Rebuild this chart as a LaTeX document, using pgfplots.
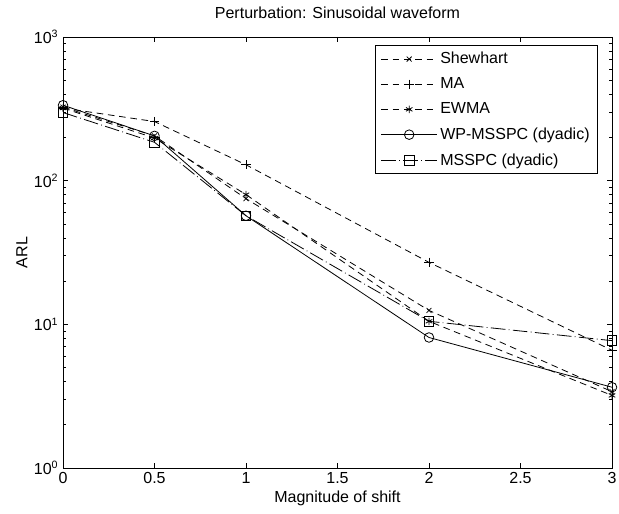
\documentclass[border=0pt]{standalone}
\usepackage{fontspec}
\setmainfont{Liberation Sans}
\usepackage{pgfplots}
\pgfplotsset{compat=1.18}
\begin{document}
\begin{tikzpicture}
\begin{axis}[
  scale only axis,
  width=411.75pt, height=323.25pt,
  ymode=log,
  xmin=0, xmax=3, ymin=1, ymax=1000,
  xtick={0,0.5,1,1.5,2,2.5,3},
  xticklabels={0,0.5,1,1.5,2,2.5,3},
  ytick={1,10,100,1000},
  yticklabels={10\textsuperscript{0},10\textsuperscript{1},10\textsuperscript{2},10\textsuperscript{3}},
  /pgf/number format/assume math mode=true,
  tick align=inside,
  major tick length=4pt,
  minor tick length=2.2pt,
  axis line style={line width=0.6pt},
  every tick/.style={black, line width=0.5pt},
  tick label style={font=\fontsize{12}{14}\selectfont},
  label style={font=\fontsize{12}{14}\selectfont},
  xlabel={Magnitude of shift},
  ylabel={ARL},
  xlabel style={yshift=2pt},
  ylabel style={yshift=-2pt},
  title={Perturbation: Sinusoidal waveform},
  title style={font=\fontsize{12}{14}\selectfont, yshift=4pt},
  legend cell align=left,
  legend style={at={(0.9745,0.981)}, anchor=north east, draw=black, line width=0.6pt,
     font=\fontsize{12}{14}\selectfont, row sep=5pt, inner xsep=4pt, inner ysep=3pt},
  legend image code/.code={\draw[mark repeat=2,mark phase=2,#1] plot coordinates {(0pt,0pt) (21pt,0pt) (42pt,0pt)};},
  every axis plot/.append style={black, line width=0.6pt},
]
\addplot[dash pattern=on 5pt off 3.5pt, mark=x, mark size=2.6pt, mark options={solid}] coordinates {(0,325) (0.5,205) (1,75) (2,12.5) (3,3.4)};
\addlegendentry{Shewhart}
\addplot[dash pattern=on 5pt off 3.5pt, mark=+, mark size=3.5pt, mark options={solid}] coordinates {(0,320) (0.5,258) (1,129) (2,27) (3,6.6)};
\addlegendentry{MA}
\addplot[dash pattern=on 5pt off 3.5pt, mark=asterisk, mark size=2.8pt, mark options={solid}] coordinates {(0,320) (0.5,198) (1,80) (2,10.5) (3,3.2)};
\addlegendentry{EWMA}
\addplot[solid, mark=o, mark size=3.6pt] coordinates {(0,335) (0.5,205) (1,57) (2,8.1) (3,3.65)};
\addlegendentry{WP-MSSPC (dyadic)}
\addplot[dash pattern=on 11pt off 2.5pt on 0.6pt off 2.5pt, mark=square, mark size=3.6pt, mark options={solid}] coordinates {(0,298) (0.5,185) (1,57) (2,10.5) (3,7.7)};
\addlegendentry{MSSPC (dyadic)}
\end{axis}
\pgfresetboundingbox
\path[use as bounding box] ([xshift=-47.25pt,yshift=-33.75pt]current axis.south west) rectangle ([xshift=5.25pt,yshift=27.75pt]current axis.north east);
\end{tikzpicture}
\end{document}
